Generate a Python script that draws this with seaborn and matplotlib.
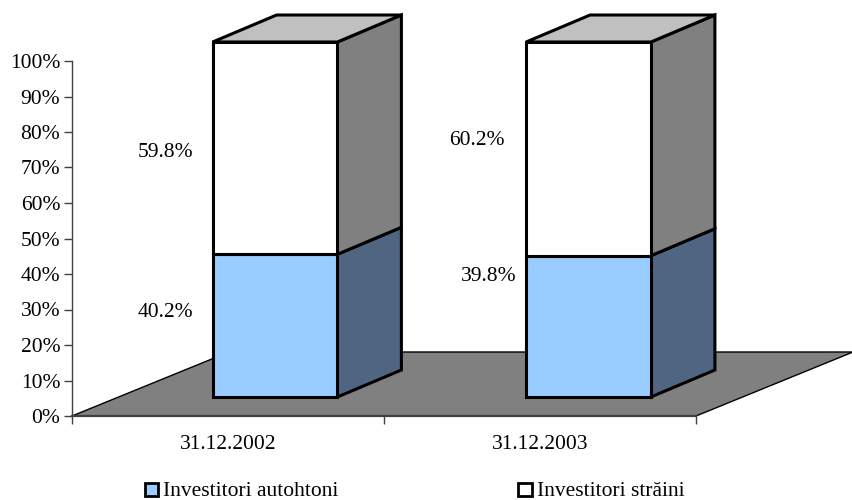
import matplotlib
matplotlib.use("Agg")
import matplotlib.pyplot as plt
from matplotlib.patches import Polygon, Rectangle
import pandas as pd
import seaborn as sns

dates = ["31.12.2002", "31.12.2003"]
autohtoni = [40.2, 39.8]
straini = [59.8, 60.2]
label_autohtoni = ["40.2%", "39.8%"]
label_straini = ["59.8%", "60.2%"]
yticks = list(range(0, 101, 10))

sns.set_theme(style="white")
plt.rcParams['font.family'] = ['Liberation Serif', 'DejaVu Serif']

W, H = 853, 500
FS = 15.5
fig = plt.figure(figsize=(W / 100, H / 100), dpi=100)
ax = fig.add_axes([72 / W, 1 - 416 / H, 624 / W, 355 / H])

df = pd.DataFrame({"date": dates, "autohtoni": autohtoni, "straini": straini})

# front faces, white one stacked on top of the blue one
BLUE, DARK_BLUE, GREY, TOP = "#99ccff", "#4f6582", "#808080", "#c0c0c0"
sns.barplot(data=df, x="date", y="autohtoni", color=BLUE, saturation=1, width=0.4,
            edgecolor="black", linewidth=2.2, ax=ax, zorder=5)
sns.barplot(data=df, x="date", y="straini", bottom=df["autohtoni"], color="white", saturation=1,
            width=0.4, edgecolor="black", linewidth=2.2, ax=ax, zorder=5)

ax.set_xlim(-0.5, 1.5)
ax.set_ylim(0, 100)

# 3d offsets in data units
floor_dx, floor_dy = 157 / 312, 64 / 3.55
front_dx, front_dy = 47 / 312, 19 / 3.55
side_dx, side_dy = 64 / 312, 27 / 3.55
bar_shift = [0, 1.5 / 312]  # second bar sits a touch further right in the original

# floor
ax.add_patch(Polygon([(-0.5, 0), (1.5, 0), (1.5 + floor_dx, floor_dy), (-0.5 + floor_dx, floor_dy)],
                     facecolor=GREY, edgecolor="black", linewidth=1, clip_on=False, zorder=1))

def side(x, y0, y1, color):
    ax.add_patch(Polygon([(x, y0), (x + side_dx, y0 + side_dy), (x + side_dx, y1 + side_dy), (x, y1)],
                         facecolor=color, edgecolor="black", linewidth=2.2, clip_on=False,
                         joinstyle="miter", zorder=4))

for p in ax.patches:
    if isinstance(p, Rectangle):
        i = int(round(p.get_x() + p.get_width() / 2))
        p.set_x(p.get_x() + front_dx + bar_shift[i])
        p.set_y(p.get_y() + front_dy)
        p.set_clip_on(False)
        p.set_joinstyle("miter")

for i in range(len(dates)):
    x0 = i - 0.2 + front_dx + bar_shift[i]
    x1 = i + 0.2 + front_dx + bar_shift[i]
    a = autohtoni[i] + front_dy
    t = autohtoni[i] + straini[i] + front_dy
    side(x1, front_dy, a, DARK_BLUE)
    side(x1, a, t, GREY)
    ax.add_patch(Polygon([(x0, t), (x1, t), (x1 + side_dx, t + side_dy), (x0 + side_dx, t + side_dy)],
                         facecolor=TOP, edgecolor="black", linewidth=2.2, clip_on=False,
                         joinstyle="miter", zorder=4))

# value labels left of the bars, placed by hand like the original
ax.text(-0.112, 29.2, label_autohtoni[0], ha="right", va="center", fontsize=FS, color="black")
ax.text(0.926, 39.3, label_autohtoni[1], ha="right", va="center", fontsize=FS, color="black")
ax.text(-0.112, 74.3, label_straini[0], ha="right", va="center", fontsize=FS, color="black")
ax.text(0.888, 77.7, label_straini[1], ha="right", va="center", fontsize=FS, color="black")

# axes
sns.despine(ax=ax, top=True, right=True)
for s in ["left", "bottom"]:
    ax.spines[s].set_color("#404040")
    ax.spines[s].set_zorder(2)
ax.spines["left"].set_linewidth(1)
ax.spines["bottom"].set_linewidth(1.6)
ax.set_xlabel("")
ax.set_ylabel("")
ax.set_yticks(yticks)
ax.set_yticklabels([f"{v}%" for v in yticks], fontsize=FS, color="black")
ax.set_xticks([-0.5, 0.5, 1.5], minor=False)
ax.set_xticklabels([])
ax.tick_params(axis="y", length=6, width=1, color="#404040", pad=2.5, left=True)
ax.tick_params(axis="x", length=6, width=1, color="#404040", bottom=True)
for i, d in enumerate(dates):
    ax.annotate(d, xy=(i, 0), xytext=(0, -24), textcoords="offset points", xycoords="data",
                ha="center", va="baseline", fontsize=FS, color="black")

# legend
fig.patches.append(Rectangle((145 / W, 1 - 496 / H), 13 / W, 13 / H, transform=fig.transFigure,
                             facecolor=BLUE, edgecolor="black", linewidth=2))
fig.patches.append(Rectangle((518 / W, 1 - 496 / H), 14 / W, 13 / H, transform=fig.transFigure,
                             facecolor="white", edgecolor="black", linewidth=2))
fig.text(163 / W, 1 - 496 / H, "Investitori autohtoni", ha="left", va="baseline", fontsize=FS, color="black")
fig.text(537 / W, 1 - 496 / H, "Investitori străini", ha="left", va="baseline", fontsize=FS, color="black")

fig.savefig("out.png", dpi=100)
